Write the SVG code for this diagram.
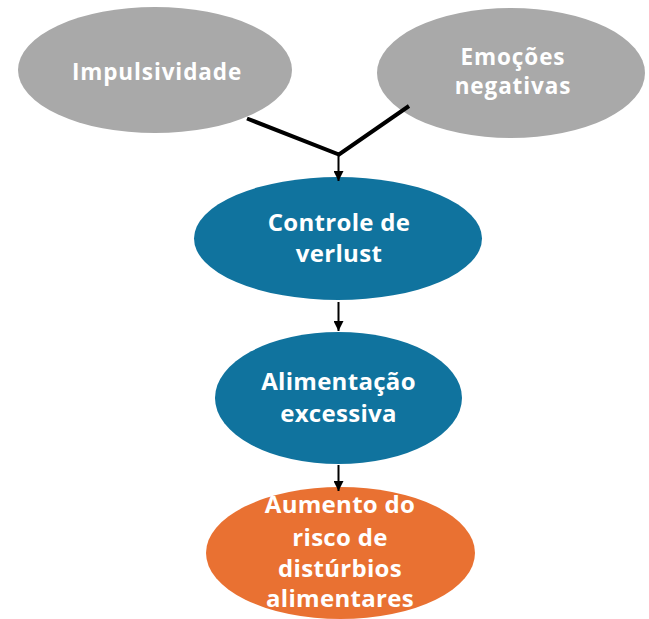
<svg xmlns="http://www.w3.org/2000/svg" width="649" height="619" viewBox="0 0 649 619">
<defs>
<style>
.gray{fill:#A9A9A9}
.blue{fill:#10739E}
.orange{fill:#E97132}
.t{fill:#FFFFFF;font-family:"Open Sans","Liberation Sans",sans-serif;font-weight:bold;font-size:24px;letter-spacing:0.3px;text-anchor:middle}
.tn{fill:#FFFFFF;font-family:"Open Sans","Liberation Sans",sans-serif;font-weight:bold;font-size:22.5px;letter-spacing:0.9px;text-anchor:middle}
.thick{stroke:#000;stroke-width:4;fill:none}
.arr{stroke:#000;stroke-width:2;fill:none;marker-end:url(#ah)}
</style>
<marker id="ah" viewBox="0 0 10 10" refX="10" refY="5" markerWidth="5" markerHeight="5" orient="auto" markerUnits="strokeWidth">
<path d="M0,0 L10,5 L0,10 z" fill="#000"/>
</marker>
</defs>
<rect width="649" height="619" fill="#FFFFFF"/>
<g id="impulsividade">
<ellipse class="gray" cx="155" cy="70" rx="137" ry="63"/>
<text class="tn" x="157" y="79.5">Impulsividade</text>
</g>
<g id="emocoes">
<ellipse class="gray" cx="511" cy="73" rx="134" ry="65"/>
<text class="tn" x="513" y="64.5">Emoções</text>
<text class="tn" x="513" y="94">negativas</text>
</g>
<g id="controle">
<ellipse class="blue" cx="338" cy="238.5" rx="144" ry="61.5"/>
<text class="t" x="339" y="231">Controle de</text>
<text class="t" x="339" y="262">verlust</text>
</g>
<g id="alimentacao">
<ellipse class="blue" cx="338.5" cy="398" rx="123.5" ry="66"/>
<text class="t" x="338.5" y="390">Alimentação</text>
<text class="t" x="338.5" y="422">excessiva</text>
</g>
<g id="aumento">
<ellipse class="orange" cx="340.5" cy="553" rx="134.5" ry="66"/>
<text class="t" x="340" y="512.5">Aumento do</text>
<text class="t" x="340" y="545.5">risco de</text>
<text class="t" x="340" y="576.5">distúrbios</text>
<text class="t" x="340" y="607">alimentares</text>
</g>
<g id="connectors">
<polyline class="thick" points="247,118.5 339,154.5 409,106"/>
<line class="arr" x1="338.5" y1="154" x2="338.5" y2="181"/>
<line class="arr" x1="338.5" y1="302" x2="338.5" y2="331"/>
<line class="arr" x1="338.5" y1="465" x2="338.5" y2="491"/>
</g>
</svg>
